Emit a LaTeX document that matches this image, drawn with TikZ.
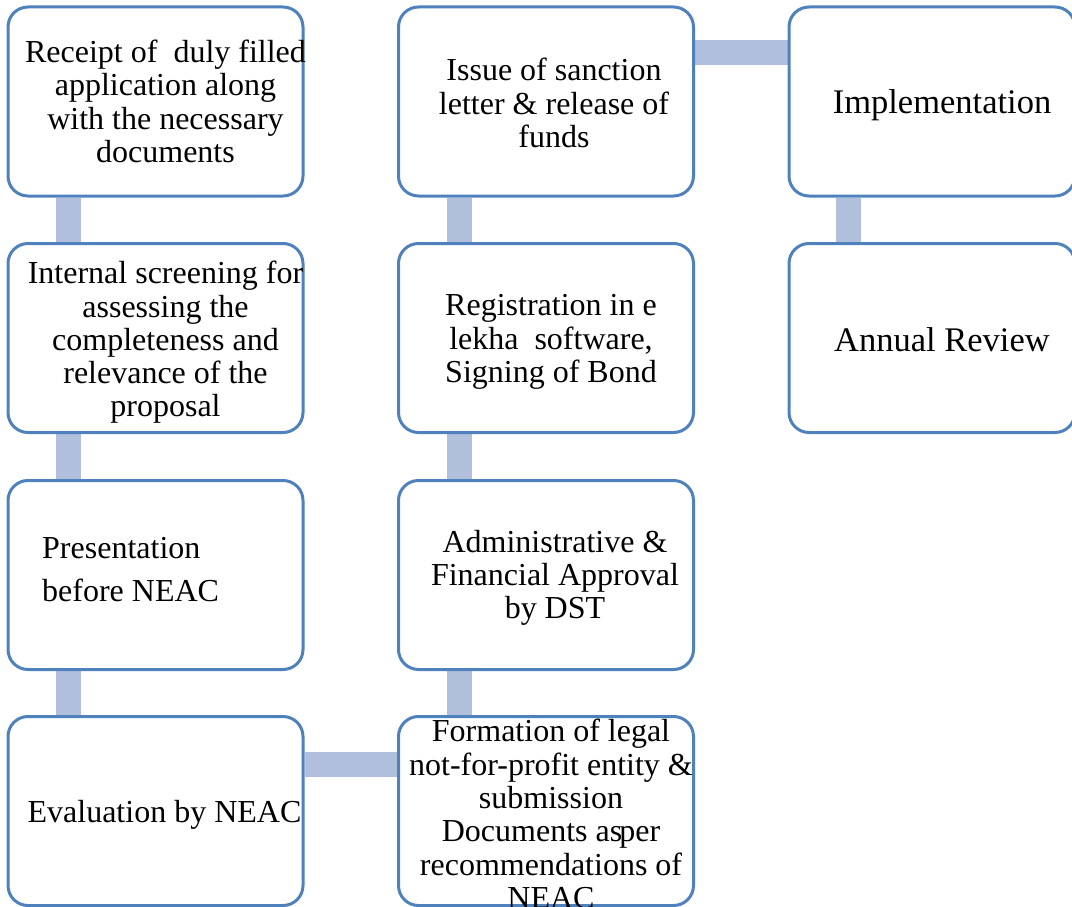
\documentclass[tikz,border=0pt]{standalone}
\usepackage{fontspec}
\setmainfont{Liberation Serif}
\usetikzlibrary{positioning,backgrounds}
\definecolor{boxline}{HTML}{4F81BD}
\definecolor{barfill}{HTML}{B0C0DC}

\begin{document}
\begin{tikzpicture}[x=1pt, y=-1pt,
    stepbox/.style={draw=boxline, line width=3pt, rounded corners=20pt, fill=white,
                    minimum width=295pt, minimum height=189pt, inner sep=0pt},
    widebox/.style={stepbox, minimum width=286pt},
    txt/.style={align=center, inner sep=0pt, font=\fontsize{32}{33.3}\selectfont},
    bigtxt/.style={txt, font=\fontsize{34.5}{35}\selectfont},
    bar/.style={draw=barfill, line width=25pt}]
    \useasboundingbox (0,0) rectangle (1072,907);

    % Boxes {first, second and third column}
    \node [stepbox] (receipt)    at (155.5,101.5) {};
    \node [stepbox] (screening)  at (155.5,338)   {};
    \node [stepbox] (present)    at (155.5,575)   {};
    \node [stepbox] (evaluation) at (155.5,811)   {};
    \node [stepbox] (issue)      at (546,101.5)   {};
    \node [stepbox] (register)   at (546,338)     {};
    \node [stepbox] (approval)   at (546,575)     {};
    \node [stepbox] (formation)  at (546,811)     {};
    \node [widebox] (implement)  at (932,101.5)   {};
    \node [widebox] (review)     at (932,338)     {};

    % Texts
    \node [txt] (t-receipt) at ([xshift=10pt]receipt.center)
        {Receipt of\ \ duly filled\\application along\\with the necessary\\documents};
    \node [txt] (t-screening) at ([xshift=10pt,yshift=-4.5pt]screening.center)
        {Internal screening for\\assessing the\\completeness and\\relevance of the\\proposal};
    \node [txt, align=left, anchor=west, font=\fontsize{32}{43}\selectfont] (t-present)
        at ([xshift=-113.5pt,yshift=5pt]present.center) {Presentation\\before NEAC};
    \node [txt] (t-evaluation) at ([xshift=9pt,yshift=-4pt]evaluation.center) {Evaluation by NEAC};
    \node [txt] (t-issue) at ([xshift=8pt,yshift=-1.5pt]issue.center)
        {Issue of sanction\\letter \& release of\\funds};
    \node [txt] (t-register) at ([xshift=5pt,yshift=-4pt]register.center)
        {Registration in e\\lekha\ \ software,\\Signing of Bond};
    \node [txt] (t-approval) at ([xshift=9pt,yshift=-3pt]approval.center)
        {Administrative \&\\Financial Approval\\by DST};
    \node [txt] (t-formation) at ([xshift=5pt,yshift=-3pt]formation.center)
        {Formation of legal\\not-for-profit entity \&\\submission\\Documents as\kern-3pt per\\recommendations of\\NEAC};
    \node [bigtxt] (t-implement) at ([xshift=10pt,yshift=-4pt]implement.center) {Implementation};
    \node [bigtxt] (t-review) at ([xshift=10pt,yshift=-2pt]review.center) {Annual Review};

    % Paths
    \begin{scope}[on background layer]
    \draw [bar] ([xshift=-87pt]receipt.south)   -- ([xshift=-87pt]screening.north);
    \draw [bar] ([xshift=-87pt]screening.south) -- ([xshift=-87pt]present.north);
    \draw [bar] ([xshift=-87pt]present.south)   -- ([xshift=-87pt]evaluation.north);
    \draw [bar] ([yshift=47pt]evaluation.east)  -- ([yshift=47pt]formation.west);
    \draw [bar] ([xshift=-87pt]formation.north) -- ([xshift=-87pt]approval.south);
    \draw [bar] ([xshift=-87pt]approval.north)  -- ([xshift=-87pt]register.south);
    \draw [bar] ([xshift=-87pt]register.north)  -- ([xshift=-87pt]issue.south);
    \draw [bar] ([yshift=48.5pt]issue.east)     -- ([yshift=48.5pt]implement.west);
    \draw [bar] ([xshift=-84pt]implement.south) -- ([xshift=-84pt]review.north);
    \end{scope}
\end{tikzpicture}
\end{document}
